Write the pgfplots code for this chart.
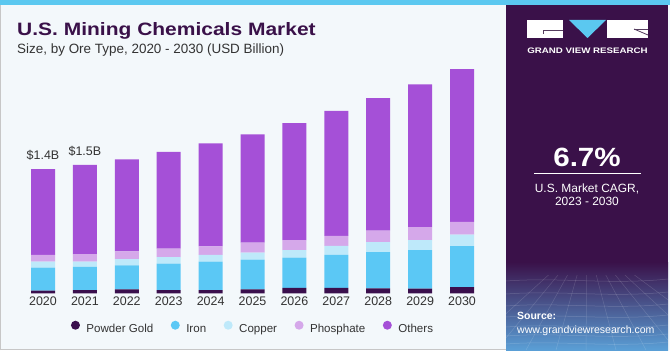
\documentclass[border=0pt]{standalone}
\usepackage{fontspec}
\setmainfont{Liberation Sans}
\usepackage{graphicx}
\usepackage{pgfplots}
\pgfplotsset{compat=1.18}
\definecolor{gold}{HTML}{3A0F4D}
\definecolor{iron}{HTML}{5BC8F5}
\definecolor{copper}{HTML}{BEE9FA}
\definecolor{phos}{HTML}{D5A8EA}
\definecolor{others}{HTML}{A550D7}
\definecolor{panel}{HTML}{3A1149}
\definecolor{bg}{HTML}{F3F8FB}
\definecolor{strip}{HTML}{5BC8F0}
\definecolor{titlec}{HTML}{3A1149}
\definecolor{txt}{HTML}{333333}
\definecolor{gridblue}{HTML}{5A9FD6}
\begin{document}
\begin{tikzpicture}[x=1bp,y=1bp]
\useasboundingbox (0,0) rectangle (670,350);
% backgrounds
\fill[white] (0,0) rectangle (670,350);
\fill[bg] (0,0) rectangle (670,345);
\draw[black!22, line width=1.2bp] (0.6,0) -- (0.6,345);
\draw[black!22, line width=1.2bp] (0,0.6) -- (506,0.6);
\fill[strip] (0,345) rectangle (670,350);
\fill[panel] (506,0) rectangle (668,345);
\shade[top color=panel, bottom color=gridblue] (506,0) rectangle (668,88);
\begin{scope}
\clip (506,0) rectangle (668,75);
\foreach \yy in {6,14,23,33,44,56,69}{\draw[white, opacity=0.18, line width=0.5bp] (506,\yy) .. controls (560,\yy+4) and (610,\yy-4) .. (668,\yy+2);}
\foreach \xx in {-40,-10,20,50,80,110,140,170,200,230}{\draw[white, opacity=0.15, line width=0.5bp] (587,110) -- (506+\xx,0);}
\end{scope}
% logo
\fill[white] (527,312) rectangle (563,330);
\draw[panel!60!gray, line width=0.8bp] (543,320) -- (563,320);
\draw[panel!60!gray, line width=0.8bp] (543,320) -- (543,316);
\fill[strip] (569,330) -- (606,330) -- (587.5,312) -- cycle;
\fill[white] (607,312) rectangle (648,330);
\draw[panel!60!gray, line width=0.8bp] (634,321) -- (648,315);
\draw[panel!60!gray, line width=0.8bp] (634,321) -- (648,321);
\node[anchor=base, text=white, font=\fontsize{8}{9}\selectfont\bfseries, inner sep=0] at (587.5,296.7) {\scalebox{1.22}[1]{GRAND VIEW RESEARCH}};
% CAGR
\node[anchor=base, text=white, font=\fontsize{26.5}{30}\selectfont\bfseries, inner sep=0] at (587,184) {\scalebox{1.12}[1]{6.7\%}};
\draw[white, line width=1bp] (534,177) -- (641,177);
\node[anchor=base, text=white, font=\fontsize{12}{14}\selectfont, inner sep=0] at (587,157.5) {U.S. Market CAGR,};
\node[anchor=base, text=white, font=\fontsize{12}{14}\selectfont, inner sep=0] at (587,144.5) {2023 - 2030};
\node[anchor=base west, text=white, font=\fontsize{10.5}{12}\selectfont\bfseries, inner sep=0] at (517,30.5) {Source:};
\node[anchor=base west, text=white, font=\fontsize{10.6}{12}\selectfont, inner sep=0] at (517,16.5) {www.grandviewresearch.com};
% titles
\node[anchor=base west, text=titlec, font=\fontsize{18}{20}\selectfont\bfseries, inner sep=0] at (17,315) {\scalebox{1.17}[1]{U.S. Mining Chemicals Market}};
\node[anchor=base west, text=txt, font=\fontsize{13.5}{15}\selectfont, inner sep=0] at (17,296.7) {Size, by Ore Type, 2020 - 2030 (USD Billion)};
\coordinate (axpos) at (1.1,56.7);
\begin{axis}[
  at={(axpos)}, anchor=south west,
  x=41.9bp, y=88.5bp,
  xmin=-1, xmax=11, ymin=0, ymax=2.8,
  ybar stacked, bar width=24bp,
  axis line style={draw=none}, major tick length=0pt,
  ytick=\empty,
  xtick={0,1,2,3,4,5,6,7,8,9,10},
  xticklabels={2020,2021,2022,2023,2024,2025,2026,2027,2028,2029,2030},
  xticklabel style={font=\fontsize{12.5}{14}\selectfont, text=txt},
  clip=false,
  legend columns=5,
  legend style={at={(0.5,-0.140)}, anchor=center, draw=none, fill=none,
    font=\fontsize{11.6}{13}\selectfont, text=txt,
    nodes={inner sep=1bp},
    column sep=5.5bp,
    /tikz/every even column/.append style={column sep=16.5bp}},
  legend cell align=left,
  legend image code/.code={\fill[#1, draw=none] (0bp,4.1bp) circle (4.5bp);},
]
\addplot[fill=gold, draw=none] coordinates {(0,0.031)(1,0.037)(2,0.045)(3,0.037)(4,0.037)(5,0.045)(6,0.060)(7,0.060)(8,0.057)(9,0.052)(10,0.071)};
\addplot[fill=iron, draw=none] coordinates {(0,0.260)(1,0.263)(2,0.271)(3,0.297)(4,0.320)(5,0.336)(6,0.342)(7,0.373)(8,0.407)(9,0.437)(10,0.463)};
\addplot[fill=copper, draw=none] coordinates {(0,0.068)(1,0.057)(2,0.071)(3,0.076)(4,0.076)(5,0.079)(6,0.087)(7,0.102)(8,0.113)(9,0.113)(10,0.128)};
\addplot[fill=phos, draw=none] coordinates {(0,0.076)(1,0.087)(2,0.087)(3,0.094)(4,0.098)(5,0.113)(6,0.113)(7,0.113)(8,0.131)(9,0.147)(10,0.144)};
\addplot[fill=others, draw=none] coordinates {(0,0.968)(1,1.006)(2,1.040)(3,1.093)(4,1.164)(5,1.224)(6,1.322)(7,1.413)(8,1.496)(9,1.613)(10,1.726)};
\legend{Powder Gold,Iron,Copper,Phosphate,Others}
\node[anchor=base, font=\fontsize{12.5}{14}\selectfont, text=txt, inner sep=0, yshift=10bp] at (axis cs:0,1.403) {\$1.4B};
\node[anchor=base, font=\fontsize{12.5}{14}\selectfont, text=txt, inner sep=0, yshift=9bp] at (axis cs:1,1.450) {\$1.5B};
\end{axis}
\end{tikzpicture}
\end{document}
